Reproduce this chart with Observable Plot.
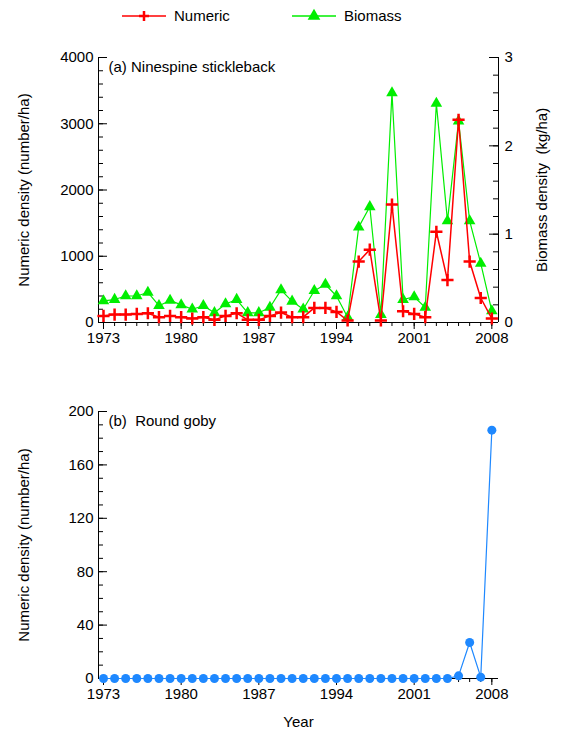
<!DOCTYPE html>
<html><head><meta charset="utf-8">
<script src="https://cdn.jsdelivr.net/npm/d3@7"></script>
<script src="https://cdn.jsdelivr.net/npm/@observablehq/plot@0.6"></script>
<style>
body{margin:0;background:#fff;font-family:"Liberation Sans",Arial,sans-serif;}
#wrap{position:relative;width:563px;height:731px;}
#a{position:absolute;left:0;top:45px}
#b{position:absolute;left:0;top:395px}
#leg{position:absolute;top:4px;left:0;width:563px;height:24px;font-size:15px}
</style></head><body><div id="wrap">
<svg id="leg" width="563" height="24"></svg>
<div id="a"></div><div id="b"></div></div>
<script>
const years = d3.range(1973, 2009);
const numeric = [100,120,120,130,140,80,100,80,60,80,40,100,140,40,40,100,150,80,80,220,220,160,30,920,1100,30,1780,170,130,80,1370,640,3060,920,370,60];
const biomass = [0.245,0.26,0.30,0.30,0.34,0.19,0.25,0.20,0.15,0.19,0.11,0.21,0.26,0.11,0.11,0.17,0.37,0.24,0.15,0.36,0.43,0.30,0.06,1.08,1.31,0.09,2.60,0.26,0.29,0.17,2.48,1.15,2.28,1.15,0.67,0.13];
const goby = [0,0,0,0,0,0,0,0,0,0,0,0,0,0,0,0,0,0,0,0,0,0,0,0,0,0,0,0,0,0,0,0,2,27,1,186];
const xTicks = [1973,1980,1987,1994,2001,2008];
const k = 4000/3;
const dA = years.map((y,i)=>({y, n:numeric[i], b:biomass[i]*k}));
const dB = years.map((y,i)=>({y, v:goby[i]}));
const font = {fontFamily:"Liberation Sans, Arial, sans-serif", fontSize:15, color:"#000", overflow:"visible"};
const xdom = [1972.55, 2008.6];
const none = ()=>"";
const yr = 36.05/400; // years per px
const inTicks = (vals, len, side) => side === "left"
  ? Plot.ruleY(vals, {x1:xdom[0], x2:xdom[0]+len*yr, stroke:"black"})
  : Plot.ruleY(vals, {x1:xdom[1]-len*yr, x2:xdom[1], stroke:"black"});

const pa = Plot.plot({
  width:563, height:310, marginLeft:98, marginRight:65, marginTop:12, marginBottom:33,
  style:font,
  x:{domain:xdom}, y:{domain:[0,4000]},
  marks:[
    Plot.axisX({ticks:years, tickSize:4, tickFormat:none, label:null}),
    Plot.axisX({ticks:xTicks, tickSize:7, tickFormat:d=>String(d), label:null}),
    Plot.axisY({ticks:[0,1000,2000,3000,4000], tickSize:0, tickPadding:5, tickFormat:d=>String(d), label:"Numeric density (number/ha)", labelAnchor:"center", labelArrow:"none", labelOffset:80}),
    Plot.axisY({anchor:"right", ticks:[0,1,2,3].map(v=>v*k), tickSize:0, tickPadding:6, tickFormat:d=>String(Math.round(d/k)), label:"Biomass density  (kg/ha)", labelAnchor:"center", labelArrow:"none", labelOffset:48}),
    inTicks(d3.range(0,4001,200), 5, "left"),
    inTicks([0,1000,2000,3000,4000], 9, "left"),
    inTicks(d3.range(0,3.01,0.2).map(v=>v*k), 5, "right"),
    inTicks([0,1,2,3].map(v=>v*k), 9, "right"),
    Plot.ruleY([0]), Plot.ruleX([xdom[0]]), Plot.ruleX([xdom[1]]),
    Plot.line(dA,{x:"y",y:"b",stroke:"#00ee00",strokeWidth:1.2}),
    Plot.dot(dA,{x:"y",y:"b",symbol:"triangle",fill:"#00ee00",r:4.3}),
    Plot.line(dA,{x:"y",y:"n",stroke:"#ff0000",strokeWidth:1.5}),
    Plot.dot(dA,{x:"y",y:"n",symbol:"plus",stroke:"#ff0000",strokeWidth:2.5,r:4}),
    Plot.text(["(a) Ninespine stickleback"],{frameAnchor:"top-left",dx:10,dy:4,fontSize:15})
  ]
});
document.getElementById("a").append(pa);

const pb = Plot.plot({
  width:563, height:336, marginLeft:98, marginRight:65, marginTop:16, marginBottom:53,
  style:font,
  x:{domain:xdom}, y:{domain:[0,200]},
  marks:[
    Plot.axisX({ticks:years, tickSize:4, tickFormat:none, label:null}),
    Plot.axisX({ticks:xTicks, tickSize:7, tickFormat:d=>String(d), label:"Year", labelAnchor:"center", labelArrow:"none", labelOffset:48}),
    Plot.axisY({ticks:[0,40,80,120,160,200], tickSize:0, tickPadding:5, tickFormat:d=>String(d), label:"Numeric density (number/ha)", labelAnchor:"center", labelArrow:"none", labelOffset:80}),
    inTicks(d3.range(0,201,10), 5, "left"),
    inTicks([0,40,80,120,160,200], 9, "left"),
    Plot.ruleY([0]), Plot.ruleX([xdom[0]]),
    Plot.line(dB,{x:"y",y:"v",stroke:"#1e88ff",strokeWidth:1.2}),
    Plot.dot(dB,{x:"y",y:"v",fill:"#1e88ff",r:4.5}),
    Plot.text(["(b)  Round goby"],{frameAnchor:"top-left",dx:10,dy:4,fontSize:15})
  ]
});
document.getElementById("b").append(pb);

const leg = d3.select("#leg");
const items = [{x:122, c:"#ff0000", plus:true, t:"Numeric"},{x:292,c:"#00ee00",s:d3.symbolTriangle,t:"Biomass"}];
items.forEach(it=>{
  leg.append("line").attr("x1",it.x).attr("x2",it.x+44).attr("y1",12).attr("y2",12).attr("stroke",it.c).attr("stroke-width",1.5);
  if (it.plus) leg.append("path").attr("d","M-5,0H5M0,-5V5").attr("transform",`translate(${it.x+22},12)`).attr("stroke",it.c).attr("stroke-width",2.5);
  else leg.append("path").attr("d",d3.symbol(it.s,70)()).attr("transform",`translate(${it.x+22},12)`).attr("fill",it.c);
  leg.append("text").attr("x",it.x+52).attr("y",17).text(it.t).attr("font-size",15);
});
</script></body></html>
